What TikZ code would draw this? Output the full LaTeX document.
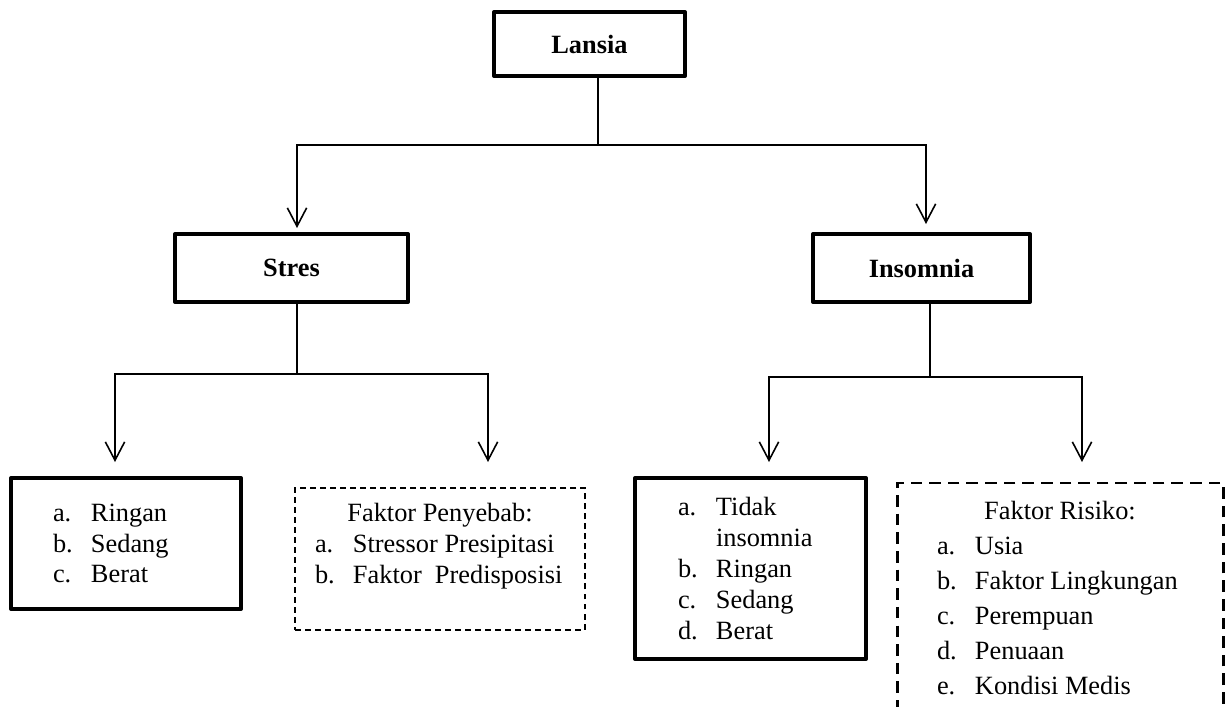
\documentclass[tikz,border=0pt]{standalone}
\usepackage{fontspec}
\setmainfont{Liberation Serif}
\usepackage{tikz}
\usetikzlibrary{arrows.meta,positioning,calc}
\newlength{\lsWidth}
\newcommand{\lsItem}[2]{\makebox[\lsWidth][l]{\makebox[0.76cm][l]{#1}#2}}
\tikzset{
  % Title box (thick border)
  tbox/.style={rectangle,draw=black,line width=2.3pt,line join=round,
    align=center,font=\fontsize{15}{18}\selectfont\bfseries},
  % List box (thick border)
  lbox/.style={rectangle,draw=black,line width=2.3pt,line join=round,
    align=center,font=\fontsize{15}{17.6}\selectfont},
  % Dashed list box (thin)
  dsbox/.style={rectangle,draw=black,line width=0.75pt,
    dash pattern=on 3.4pt off 2.3pt,
    align=center,font=\fontsize{15}{17.6}\selectfont},
  % Dashed list box (thick)
  dlbox/.style={rectangle,draw=black,line width=1.7pt,
    dash pattern=on 6.6pt off 4pt,
    align=center,font=\fontsize{15}{19.9}\selectfont},
  % Width of the list column
  lsw/.code={\setlength{\lsWidth}{#1}},
  % Lines and arrows
  ln/.style={line width=0.9pt,color=black},
  arr/.style={ln,-{Straight Barb[length=10.5pt,width=11pt]}},
}

\begin{document}
\begin{tikzpicture}
  \useasboundingbox (0,0) rectangle (24.64,-14.14);
  \clip (0,0) rectangle (24.64,-14.14);

  % Top level
  \node[tbox,minimum width=3.82cm,minimum height=1.28cm] (lansia)
    at (11.79,-0.88) {Lansia};

  % Second level
  \node[tbox,minimum width=4.66cm,minimum height=1.36cm] (stres)
    at (5.83,-5.36) {Stres};
  \node[tbox,minimum width=4.34cm,minimum height=1.36cm] (insomnia)
    at (18.43,-5.36) {Insomnia};

  % Third level: Stres
  \node[lbox,minimum width=4.60cm,minimum height=2.62cm,lsw=2.92cm]
    (tkStres) at (2.52,-10.87)
    {\lsItem{a.}{Ringan}\\ \lsItem{b.}{Sedang}\\ \lsItem{c.}{Berat}};
  \node[dsbox,minimum width=5.80cm,minimum height=2.84cm,lsw=5.0cm]
    (penyebab) at (8.80,-11.18)
    {Faktor Penyebab:\\
     \lsItem{a.}{Stressor Presipitasi}\\
     \lsItem{b.}{Faktor~~Predisposisi}\\ \mbox{}};

  % Third level: Insomnia
  \node[lbox,minimum width=4.62cm,minimum height=3.62cm,lsw=2.9cm]
    (tkInsomnia) at (15.01,-11.37)
    {\lsItem{a.}{Tidak}\\ \lsItem{}{insomnia}\\ \lsItem{b.}{Ringan}\\
     \lsItem{c.}{Sedang}\\ \lsItem{d.}{Berat}};
  \node[dlbox,minimum width=6.52cm,minimum height=4.60cm,lsw=4.92cm]
    (risiko) at (21.20,-11.96)
    {Faktor Risiko:\\
     \lsItem{a.}{Usia}\\ \lsItem{b.}{Faktor Lingkungan}\\
     \lsItem{c.}{Perempuan}\\ \lsItem{d.}{Penuaan}\\
     \lsItem{e.}{Kondisi Medis}};

  % Branches from Lansia
  \coordinate (jTop) at (11.96,-2.90);
  \coordinate (tipStres) at (5.94,-4.56);
  \coordinate (tipIns) at (18.52,-4.48);
  \draw[ln] (lansia.south -| jTop) -- (jTop);
  \draw[arr] (jTop) -| (tipStres);
  \draw[arr] (jTop) -| (tipIns);

  % Branches from Stres
  \coordinate (jStres) at (5.94,-7.48);
  \coordinate (tipRingan) at (2.30,-9.24);
  \coordinate (tipPenyebab) at (9.76,-9.24);
  \draw[ln] (stres.south -| jStres) -- (jStres);
  \draw[arr] (jStres) -| (tipRingan);
  \draw[arr] (jStres) -| (tipPenyebab);

  % Branches from Insomnia
  \coordinate (jIns) at (18.60,-7.54);
  \coordinate (tipTidak) at (15.38,-9.24);
  \coordinate (tipRisiko) at (21.64,-9.24);
  \draw[ln] (insomnia.south -| jIns) -- (jIns);
  \draw[arr] (jIns) -| (tipTidak);
  \draw[arr] (jIns) -| (tipRisiko);
\end{tikzpicture}
\end{document}
